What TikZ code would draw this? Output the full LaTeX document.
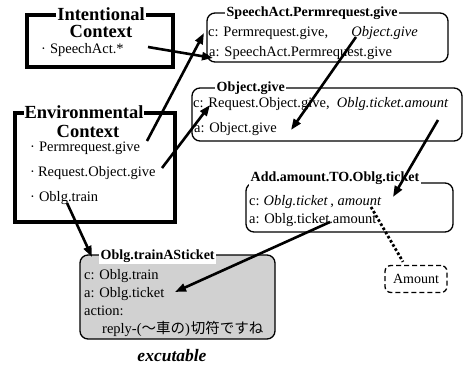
\documentclass[tikz,border=0pt]{standalone}
\usepackage{fontspec}
\setmainfont{Liberation Serif}
\newfontfamily\jafont{Noto Sans CJK JP}
\usetikzlibrary{arrows.meta}
\begin{document}
\begin{tikzpicture}[x=1pt,y=-1pt,
  ctxbox/.style={draw, line width=3.2pt},
  ctxtitle/.style={font=\fontsize{18.5}{20}\selectfont\bfseries, inner sep=1pt},
  ctxline/.style={font=\fontsize{14.5}{16}\selectfont, anchor=west, inner sep=0pt, text height=10pt, text depth=3pt},
  rulebox/.style={draw, line width=1.3pt, rounded corners=8pt},
  ruletitle/.style={font=\fontsize{14}{16}\selectfont\bfseries, anchor=west, inner sep=1.5pt, fill=white},
  ruleline/.style={font=\fontsize{14.5}{16}\selectfont, anchor=west, inner sep=0pt, text height=10pt, text depth=3pt},
  link/.style={line width=2.6pt, -{Triangle[length=11pt,width=8pt]}},
  dotlink/.style={line width=2.8pt, dash pattern=on 2.6pt off 2.2pt},
  ]
\useasboundingbox (0,0) rectangle (464,367);

% ---- Intentional context ----
\draw[ctxbox] (27,15) rectangle (173,67);
\node[ctxtitle, fill=white] (ictitle) at (101,14) {Intentional};
\node[ctxtitle] (icsub) at (101,31.5) {Context};
\node[ctxline] (icsa) at (41,50) {·\hspace{4pt}SpeechAct.*};

% ---- Environmental context ----
\draw[ctxbox] (15,113) rectangle (175,222);
\node[ctxtitle, fill=white] (ectitle) at (84,112) {Environmental};
\node[ctxtitle] (ecsub) at (88,131) {Context};
\node[ctxline] (ecperm) at (30,148) {·\hspace{4pt}Permrequest.give};
\node[ctxline] (ecreq)  at (30,173) {·\hspace{3pt}Request.Object.give};
\node[ctxline] (ectrain) at (30,198) {·\hspace{4pt}Oblg.train};

% ---- SpeechAct.Permrequest.give ----
\draw[rulebox] (207,13) rectangle (448,62);
\node[ruletitle] (spt) at (225,13) {SpeechAct.Permrequest.give};
\node[ruleline] (spc) at (208,33) {c: Permrequest.give,\hspace{1.6em}\textit{Object.give}};
\node[ruleline] (spa) at (209,53) {a: SpeechAct.Permrequest.give};

% ---- Object.give ----
\draw[rulebox] (192,88) rectangle (462,141);
\node[ruletitle] (ogt) at (215,88) {Object.give};
\node[ruleline] (ogc) at (193,104) {c: Request.Object.give,\hspace{0.5em}\textit{Oblg.ticket.amount}};
\node[ruleline] (oga) at (194,129) {a: Object.give};

% ---- Add.amount.TO.Oblg.ticket ----
\draw[rulebox] (246,183) rectangle (453,232);
\node[ruletitle] (adt) at (249,178) {Add.amount.TO.Oblg.ticket};
\node[ruleline] (adc) at (249,202) {c:\hspace{4pt}\textit{Oblg.ticket}\,, \textit{amount}};
\node[ruleline] (ada) at (249,220) {a: Oblg.ticket.amount};

% ---- Amount ----
\node[draw, line width=1.3pt, dash pattern=on 5pt off 3pt, rounded corners=6pt,
      minimum width=62pt, minimum height=27pt, inner sep=0pt,
      font=\fontsize{14}{16}\selectfont] (amt) at (416,279) {Amount};

% ---- Oblg.trainASticket (executable rule) ----
\draw[rulebox, fill=black!18] (80,255) rectangle (275,339);
\node[ruletitle] (tst) at (99,256) {Oblg.trainASticket};
\node[ruleline] (tsc) at (84,276) {c: Oblg.train};
\node[ruleline] (tsa) at (84,294) {a: Oblg.ticket};
\node[ruleline] (tsx) at (84,312) {action:};
\node[ruleline] (tsr) at (102,330) {reply-({\jafont ～車の})\kern1pt{\jafont 切符ですね}};
\node[font=\fontsize{17.5}{19}\selectfont\bfseries\itshape, inner sep=0pt] (exe) at (172,356) {excutable};

% ---- connector end points ----
\coordinate (a1s) at (148,47);  \coordinate (a1e) at (213,58);
\coordinate (a2s) at (147,141); \coordinate (a2e) at (204,33);
\coordinate (a3s) at (162,168); \coordinate (a3e) at (210,105);
\coordinate (a4s) at (356,37);  \coordinate (a4e) at (291,130);
\coordinate (a5s) at (438,120); \coordinate (a5e) at (393,197);
\coordinate (a6s) at (330,222); \coordinate (a6e) at (175,292);
\coordinate (a7s) at (67,203);  \coordinate (a7e) at (92,257);
\coordinate (dls) at (371,207);

% ---- connectors ----
\draw[link] (a1s) -- (a1e);
\draw[link] (a2s) -- (a2e);
\draw[link] (a3s) -- (a3e);
\draw[link] (a4s) -- (a4e);
\draw[link] (a5s) -- (a5e);
\draw[link] (a6s) -- (a6e);
\draw[link] (a7s) -- (a7e);
\draw[dotlink] (dls) -- ([xshift=-13pt,yshift=3pt]amt.north);
\end{tikzpicture}
\end{document}
